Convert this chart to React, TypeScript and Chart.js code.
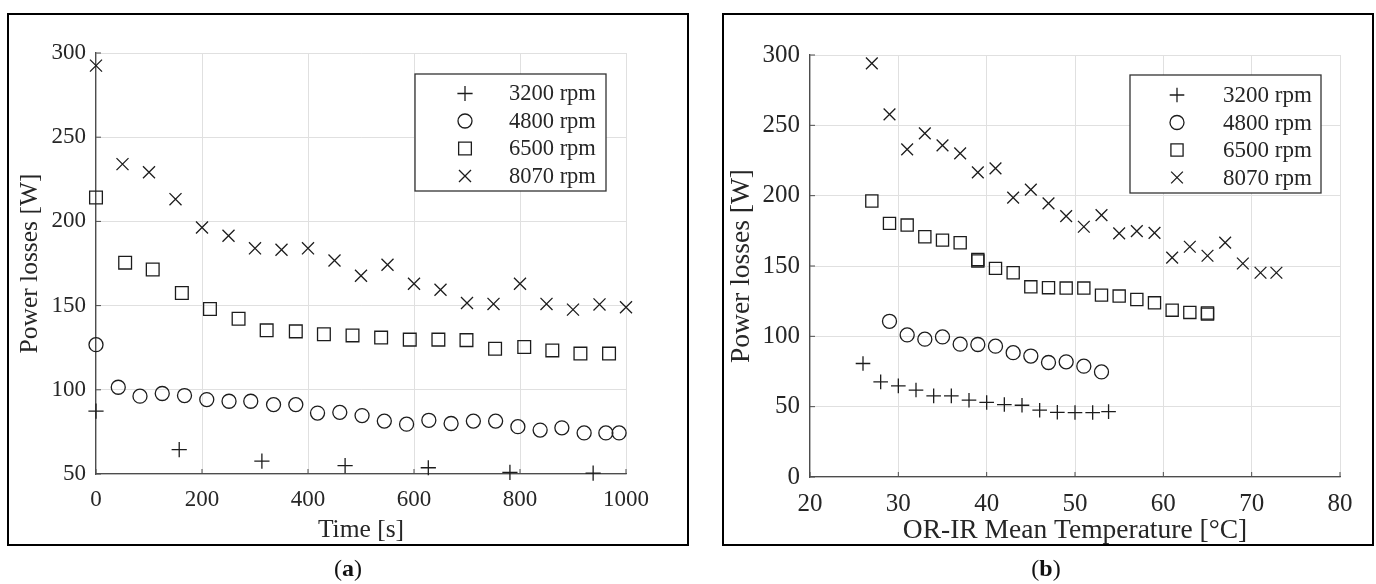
import React, { useEffect, useRef } from "react";
import Chart from "chart.js/auto";

// ---------- Data ----------
const seriesLabels = ["3200 rpm", "4800 rpm", "6500 rpm", "8070 rpm"];
const seriesStyles = ["cross", "circle", "rect", "crossRot"];

// (a) Power losses vs time
const leftTime3200 = [0, 157, 313, 470, 627, 781, 938];
const leftLoss3200 = [87.3, 64.5, 57.6, 55, 53.7, 51, 50.5];

const leftTime4800 = [0, 42, 83, 125, 167, 209, 251, 292, 335, 377, 418, 460, 502, 544, 586, 628, 670, 712, 754, 796, 838, 879, 921, 962, 987];
const leftLoss4800 = [126.8, 101.5, 96.2, 97.8, 96.6, 94.2, 93.2, 93.2, 91.2, 91.2, 86.2, 86.6, 84.7, 81.4, 79.6, 81.9, 80, 81.4, 81.4, 78.1, 76.1, 77.4, 74.4, 74.4, 74.4];

const leftTime6500 = [0, 55, 107, 162, 215, 269, 322, 377, 430, 484, 538, 592, 646, 699, 753, 808, 861, 914, 968];
const leftLoss6500 = [214.2, 175.5, 171.4, 157.5, 148, 142.2, 135.3, 134.7, 133, 132.3, 131, 129.8, 129.8, 129.5, 124.4, 125.4, 123.4, 121.5, 121.5];

const leftTime8070 = [0, 50, 100, 150, 200, 250, 300, 350, 400, 450, 500, 550, 600, 650, 700, 750, 800, 850, 900, 950, 1000];
const leftLoss8070 = [292.5, 234, 229.2, 213.2, 196.4, 191.5, 184, 183.2, 184, 176.8, 167.7, 174.3, 163, 159.4, 151.5, 151, 163, 151, 147.6, 150.7, 149];

// (b) Power losses vs OR-IR mean temperature
const rightTemp3200 = [26, 28, 30, 32, 34, 36, 38, 40, 42, 44, 46, 48, 50, 52, 53.8];
const rightLoss3200 = [80.7, 67.6, 64.8, 61.8, 57.7, 57.7, 54.6, 53, 51.5, 51, 47.5, 46, 45.8, 45.8, 46.5];

const rightTemp4800 = [29, 31, 33, 35, 37, 39, 41, 43, 45, 47, 49, 51, 53];
const rightLoss4800 = [110.7, 101, 98, 99.6, 94.4, 94.2, 93, 88.4, 86, 81.4, 81.9, 78.8, 74.7];

const rightTemp6500 = [27, 29, 31, 33, 35, 37, 39, 39, 41, 43, 45, 47, 49, 51, 53, 55, 57, 59, 61, 63, 65, 65];
const rightLoss6500 = [196.2, 180.3, 179.1, 170.8, 168.4, 166.5, 154.6, 153.6, 148.3, 145.2, 135.2, 134.6, 134.3, 134.3, 129.3, 128.6, 126.2, 123.8, 118.6, 117, 116.6, 115.8];

const rightTemp8070 = [27, 29, 31, 33, 35, 37, 39, 41, 43, 45, 47, 49, 51, 53, 55, 57, 59, 61, 63, 65, 67, 69, 71, 72.8];
const rightLoss8070 = [294.1, 257.8, 232.9, 244.3, 235.8, 230.1, 216.6, 219.4, 198.6, 204.3, 194.5, 185.5, 177.9, 186.2, 173.2, 174.8, 173.6, 156, 163.7, 157.3, 166.6, 151.8, 145.2, 145.2];

// Axis ranges / tick steps
const leftX = { min: 0, max: 1000, step: 200, title: "Time [s]" };
const leftY = { min: 50, max: 300, step: 50, title: "Power losses [W]" };
const rightX = { min: 20, max: 80, step: 10, title: "OR-IR Mean Temperature [°C]" };
const rightY = { min: 0, max: 300, step: 50, title: "Power losses [W]" };

// ---------- Styling ----------
const FONT = "'Liberation Serif', 'Times New Roman', serif";
const TEXT = "#262626";
const MARK = "#1c1c1c";
const GRID = "#e0e0e0";
const AXIS = "#4d4d4d";

function toPoints(xs: number[], ys: number[]) {
  return xs.map((x, i) => ({ x, y: ys[i] }));
}

function drawMarker(ctx: CanvasRenderingContext2D, style: string, x: number, y: number, r: number) {
  ctx.beginPath();
  if (style === "cross") {
    ctx.moveTo(x, y - r);
    ctx.lineTo(x, y + r);
    ctx.moveTo(x - r, y);
    ctx.lineTo(x + r, y);
  } else if (style === "circle") {
    ctx.arc(x, y, r, 0, Math.PI * 2);
  } else if (style === "rect") {
    const s = r * Math.SQRT1_2;
    ctx.rect(x - s, y - s, 2 * s, 2 * s);
  } else {
    const d = r * Math.SQRT1_2;
    ctx.moveTo(x - d, y - d);
    ctx.lineTo(x + d, y + d);
    ctx.moveTo(x - d, y + d);
    ctx.lineTo(x + d, y - d);
  }
  ctx.stroke();
}

type PanelCfg = {
  xs: number[][];
  ys: number[][];
  radii: number[];
  xAxis: { min: number; max: number; step: number; title: string };
  yAxis: { min: number; max: number; step: number; title: string };
  tickSize: number;
  titleSize: number;
  legendSize: number;
  yWidth: number;
  xHeight: number;
  padTop: number;
  padRight: number;
  yTitlePad: number;
  xTitlePad: number;
  xTickPad: number;
  yTickPad: number;
  legend: { x: number; y: number; w: number; h: number; mx: number; tx: number; row0: number; rowH: number };
};

function makeConfig(cfg: PanelCfg): any {
  const datasets = seriesLabels.map((label, i) => ({
    label,
    data: toPoints(cfg.xs[i], cfg.ys[i]),
    showLine: false,
    pointStyle: seriesStyles[i],
    pointRadius: cfg.radii[i],
    pointHoverRadius: cfg.radii[i],
    pointBorderWidth: 1.3,
    pointBorderColor: MARK,
    pointBackgroundColor: "rgba(0,0,0,0)",
    borderColor: MARK,
    backgroundColor: "rgba(0,0,0,0)",
    clip: false,
  }));

  const innerTicks = {
    id: "innerTicks",
    beforeDatasetsDraw(chart: any) {
      const { ctx, chartArea, scales } = chart;
      ctx.save();
      ctx.strokeStyle = AXIS;
      ctx.lineWidth = 1;
      scales.x.ticks.forEach((t: any) => {
        const px = scales.x.getPixelForValue(t.value);
        ctx.beginPath();
        ctx.moveTo(px, chartArea.bottom);
        ctx.lineTo(px, chartArea.bottom - 5);
        ctx.stroke();
      });
      scales.y.ticks.forEach((t: any) => {
        const py = scales.y.getPixelForValue(t.value);
        ctx.beginPath();
        ctx.moveTo(chartArea.left, py);
        ctx.lineTo(chartArea.left + 5, py);
        ctx.stroke();
      });
      ctx.restore();
    },
  };

  const legendBox = {
    id: "legendBox",
    afterDraw(chart: any) {
      const { ctx } = chart;
      const L = cfg.legend;
      ctx.save();
      ctx.fillStyle = "#ffffff";
      ctx.fillRect(L.x, L.y, L.w, L.h);
      ctx.strokeStyle = "#333333";
      ctx.lineWidth = 1.3;
      ctx.strokeRect(L.x, L.y, L.w, L.h);
      ctx.font = `${cfg.legendSize}px ${FONT}`;
      ctx.textBaseline = "middle";
      ctx.textAlign = "left";
      seriesLabels.forEach((label, i) => {
        const cy = L.y + L.row0 + i * L.rowH;
        ctx.strokeStyle = MARK;
        ctx.lineWidth = 1.3;
        drawMarker(ctx, seriesStyles[i], L.x + L.mx, cy, cfg.radii[i]);
        ctx.fillStyle = TEXT;
        ctx.fillText(label, L.x + L.tx, cy + 1);
      });
      ctx.restore();
    },
  };

  const plainTick = (v: any) => String(v);

  return {
    type: "scatter",
    data: { datasets },
    plugins: [innerTicks, legendBox],
    options: {
      responsive: false,
      animation: false,
      events: [],
      layout: { padding: { top: cfg.padTop, right: cfg.padRight, left: 0, bottom: 0 } },
      plugins: { legend: { display: false }, tooltip: { enabled: false } },
      scales: {
        x: {
          type: "linear",
          min: cfg.xAxis.min,
          max: cfg.xAxis.max,
          ticks: {
            stepSize: cfg.xAxis.step,
            padding: cfg.xTickPad,
            maxRotation: 0,
            color: TEXT,
            font: { family: FONT, size: cfg.tickSize },
            callback: plainTick,
          },
          grid: { color: GRID, lineWidth: 1, drawTicks: false },
          border: { display: true, color: AXIS, width: 1.3 },
          title: {
            display: true,
            text: cfg.xAxis.title,
            color: TEXT,
            font: { family: FONT, size: cfg.titleSize },
            padding: { top: 0, bottom: cfg.xTitlePad },
          },
          afterFit: (s: any) => {
            s.height = cfg.xHeight;
          },
        },
        y: {
          type: "linear",
          min: cfg.yAxis.min,
          max: cfg.yAxis.max,
          ticks: {
            stepSize: cfg.yAxis.step,
            padding: cfg.yTickPad,
            color: TEXT,
            font: { family: FONT, size: cfg.tickSize },
            callback: plainTick,
          },
          grid: { color: GRID, lineWidth: 1, drawTicks: false },
          border: { display: true, color: AXIS, width: 1.3 },
          title: {
            display: true,
            text: cfg.yAxis.title,
            color: TEXT,
            font: { family: FONT, size: cfg.titleSize },
            padding: { top: cfg.yTitlePad, bottom: 0 },
          },
          afterFit: (s: any) => {
            s.width = cfg.yWidth;
          },
        },
      },
    },
  };
}

const leftCfg: PanelCfg = {
  xs: [leftTime3200, leftTime4800, leftTime6500, leftTime8070],
  ys: [leftLoss3200, leftLoss4800, leftLoss6500, leftLoss8070],
  radii: [7.6, 7, 9, 8.5],
  xAxis: leftX,
  yAxis: leftY,
  tickSize: 23,
  titleSize: 25.5,
  legendSize: 22.5,
  yWidth: 96,
  xHeight: 110,
  padTop: 53,
  padRight: 74,
  yTitlePad: 14.5,
  xTitlePad: 38,
  xTickPad: 12,
  yTickPad: 10,
  legend: { x: 415, y: 74, w: 191, h: 117, mx: 50, tx: 94, row0: 19.5, rowH: 27.5 },
};

const rightCfg: PanelCfg = {
  xs: [rightTemp3200, rightTemp4800, rightTemp6500, rightTemp8070],
  ys: [rightLoss3200, rightLoss4800, rightLoss6500, rightLoss8070],
  radii: [7.3, 7, 8.6, 8.3],
  xAxis: rightX,
  yAxis: rightY,
  tickSize: 25,
  titleSize: 27.5,
  legendSize: 23,
  yWidth: 105,
  xHeight: 107,
  padTop: 55,
  padRight: 36,
  yTitlePad: 20.5,
  xTitlePad: 36.5,
  xTickPad: 12,
  yTickPad: 10,
  legend: { x: 425, y: 75, w: 191, h: 118, mx: 47, tx: 93, row0: 20, rowH: 27.5 },
};

export default function App() {
  const leftRef = useRef<HTMLCanvasElement | null>(null);
  const rightRef = useRef<HTMLCanvasElement | null>(null);

  useEffect(() => {
    const charts: Chart[] = [];
    if (leftRef.current) charts.push(new Chart(leftRef.current, makeConfig(leftCfg)));
    if (rightRef.current) charts.push(new Chart(rightRef.current, makeConfig(rightCfg)));
    return () => charts.forEach((c) => c.destroy());
  }, []);

  const caption: React.CSSProperties = {
    position: "absolute",
    top: 553,
    width: 80,
    textAlign: "center",
    fontFamily: FONT,
    fontSize: 24,
    lineHeight: "30px",
    color: "#111",
  };

  return (
    <div style={{ position: "fixed", left: 0, top: 0, width: 1376, height: 584, background: "#fff", overflow: "hidden" }}>
      <canvas ref={leftRef} width={700} height={584} style={{ position: "absolute", left: 0, top: 0, width: 700, height: 584 }} />
      <canvas ref={rightRef} width={671} height={584} style={{ position: "absolute", left: 705, top: 0, width: 671, height: 584 }} />
      <div style={{ position: "absolute", left: 7, top: 13, width: 682, height: 533, border: "2px solid #000", boxSizing: "border-box", pointerEvents: "none" }} />
      <div style={{ position: "absolute", left: 722, top: 13, width: 652, height: 533, border: "2px solid #000", boxSizing: "border-box", pointerEvents: "none" }} />
      <div style={{ ...caption, left: 348 - 40 }}>
        (<b>a</b>)
      </div>
      <div style={{ ...caption, left: 1046 - 40 }}>
        (<b>b</b>)
      </div>
    </div>
  );
}
